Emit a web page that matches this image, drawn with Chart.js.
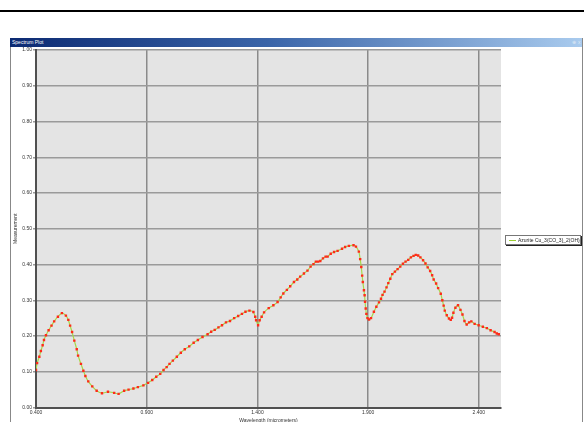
<!DOCTYPE html>
<html lang="en">
<head>
    <meta charset="UTF-8">
    <title>Spectrum Plot</title>
    <script src="https://cdn.jsdelivr.net/npm/chart.js"></script>
    <style>
        body { margin: 0; background: #fff; font-family: "Liberation Sans", Arial, sans-serif; }
        .topline { position: absolute; left: 0; top: 10px; width: 584px; height: 2px; background: #000; }
        .window { position: absolute; left: 10px; top: 38px; width: 571px; height: 390px; border-left: 1px solid #888; border-right: 1px solid #888; }
        .titlebar { position: absolute; left: 10px; top: 38px; width: 572px; height: 9px;
                    background: linear-gradient(to right, #0c2a72, #3a64a8 45%, #a9cbee); }
        .titlebar span { position: absolute; left: 2px; top: 1px; font-size: 5px; color: #fff; }
        .titlebar i { position: absolute; top: 1px; font-style: normal; font-size: 5px; color: #dfe8f5; }
        #chart { position: absolute; left: 0; top: 0; }
        .legend { position: absolute; left: 505px; top: 235px; width: 74px; height: 8px; background: #fff;
                  border: 1px solid #777; box-shadow: 1px 1px 0 #222; overflow: hidden; white-space: nowrap; }
        .legend b { position: absolute; left: 3px; top: 4px; width: 7px; height: 1px; background: #9acd32; }
        .legend span { position: absolute; left: 12px; top: 1px; font-size: 5px; color: #222; }
    </style>
</head>
<body>
    <div class="topline"></div>
    <div class="window"></div>
    <div class="titlebar"><span>Spectrum Plot</span><i style="left:562px">&#8853;</i><i style="left:568px">x</i></div>
    <canvas id="chart" width="584" height="422"></canvas>
    <div class="legend"><b></b><span>Azurite Cu_3(CO_3)_2(OH)_2</span></div>
    <script>
        // Datos del espectro (micrometros / medida)
        const seriesName = 'Azurite Cu_3(CO_3)_2(OH)_2';
        const wavelength = [
            0.400, 0.405, 0.415, 0.422, 0.430, 0.436, 0.445, 0.457, 0.470, 0.482,
            0.499, 0.517, 0.535, 0.546, 0.554, 0.563, 0.573, 0.584, 0.590, 0.603,
            0.614, 0.623, 0.636, 0.654, 0.674, 0.698, 0.725, 0.753, 0.773, 0.798,
            0.818, 0.840, 0.860, 0.885, 0.906, 0.925, 0.943, 0.961, 0.976, 0.990,
            1.003, 1.018, 1.036, 1.054, 1.072, 1.092, 1.112, 1.131, 1.152, 1.175,
            1.191, 1.207, 1.224, 1.240, 1.258, 1.276, 1.295, 1.313, 1.330, 1.346,
            1.364, 1.382, 1.390, 1.394, 1.403, 1.410, 1.419, 1.430, 1.451, 1.472,
            1.491, 1.505, 1.517, 1.533, 1.548, 1.565, 1.580, 1.593, 1.610, 1.626,
            1.640, 1.653, 1.664, 1.674, 1.684, 1.696, 1.708, 1.717, 1.731, 1.746,
            1.762, 1.782, 1.796, 1.813, 1.834, 1.845, 1.858, 1.864, 1.869, 1.873,
            1.876, 1.881, 1.884, 1.886, 1.889, 1.892, 1.897, 1.904, 1.913, 1.926,
            1.937, 1.949, 1.958, 1.965, 1.974, 1.983, 1.991, 2.000, 2.009, 2.021,
            2.033, 2.045, 2.057, 2.069, 2.081, 2.093, 2.105, 2.115, 2.126, 2.136,
            2.148, 2.159, 2.169, 2.180, 2.189, 2.196, 2.207, 2.216, 2.228, 2.235,
            2.241, 2.246, 2.255, 2.265, 2.273, 2.279, 2.285, 2.294, 2.306, 2.317,
            2.326, 2.335, 2.345, 2.356, 2.366, 2.381, 2.399, 2.418, 2.436, 2.453,
            2.471, 2.481, 2.490
        ];
        const measurement = [
            0.105, 0.124, 0.142, 0.158, 0.174, 0.189, 0.202, 0.216, 0.229, 0.241,
            0.254, 0.264, 0.257, 0.245, 0.229, 0.211, 0.187, 0.163, 0.145, 0.122,
            0.103, 0.088, 0.073, 0.059, 0.047, 0.040, 0.044, 0.041, 0.038, 0.047,
            0.050, 0.053, 0.057, 0.062, 0.069, 0.077, 0.086, 0.094, 0.105, 0.113,
            0.122, 0.131, 0.142, 0.153, 0.163, 0.171, 0.181, 0.189, 0.197, 0.205,
            0.212, 0.217, 0.224, 0.230, 0.238, 0.242, 0.250, 0.256, 0.262, 0.268,
            0.271, 0.267, 0.254, 0.244, 0.230, 0.244, 0.254, 0.266, 0.278, 0.286,
            0.295, 0.308, 0.319, 0.329, 0.339, 0.351, 0.358, 0.366, 0.375, 0.383,
            0.394, 0.401, 0.408, 0.408, 0.410, 0.417, 0.422, 0.422, 0.430, 0.435,
            0.438, 0.444, 0.449, 0.452, 0.454, 0.450, 0.436, 0.415, 0.393, 0.369,
            0.351, 0.328, 0.314, 0.296, 0.277, 0.262, 0.250, 0.246, 0.250, 0.268,
            0.282, 0.294, 0.304, 0.315, 0.324, 0.336, 0.348, 0.360, 0.373, 0.380,
            0.387, 0.394, 0.402, 0.408, 0.413, 0.420, 0.424, 0.427, 0.425, 0.420,
            0.412, 0.403, 0.392, 0.382, 0.370, 0.358, 0.347, 0.334, 0.318, 0.300,
            0.285, 0.271, 0.258, 0.249, 0.245, 0.251, 0.265, 0.279, 0.286, 0.273,
            0.260, 0.242, 0.232, 0.238, 0.241, 0.234, 0.230, 0.226, 0.222, 0.216,
            0.211, 0.207, 0.205
        ];
        const xTicks = [0.4, 0.9, 1.4, 1.9, 2.4];
        const xTitle = 'Wavelength (micrometers)';
        const yTitle = 'Measurement';

        // Fondo gris del area de la grafica
        const plotBackground = {
            id: 'plotBackground',
            beforeDraw(chart) {
                const a = chart.chartArea;
                const ctx = chart.ctx;
                ctx.save();
                ctx.fillStyle = '#e4e4e4';
                ctx.fillRect(a.left, a.top, a.right - a.left, a.bottom - a.top);
                ctx.restore();
            }
        };

        const font = { family: 'Liberation Sans', size: 5 };

        new Chart(document.getElementById('chart').getContext('2d'), {
            type: 'line',
            data: {
                datasets: [{
                    label: seriesName,
                    data: wavelength.map((w, i) => ({ x: w, y: measurement[i] })),
                    borderColor: '#a6d84a',
                    borderWidth: 1.2,
                    tension: 0.2,
                    fill: false,
                    pointStyle: 'rect',
                    pointRadius: 1.7,
                    pointBackgroundColor: '#ff2a1a',
                    pointBorderWidth: 0
                }]
            },
            options: {
                responsive: false,
                animation: false,
                layout: { padding: { left: 11, top: 50, right: 83, bottom: 0 } },
                plugins: { legend: { display: false }, tooltip: { enabled: false } },
                scales: {
                    x: {
                        type: 'linear',
                        min: 0.4,
                        max: 2.5,
                        afterFit(scale) { scale.height = 14.5; },
                        afterBuildTicks(scale) { scale.ticks = xTicks.map(v => ({ value: v })); },
                        ticks: { font, color: '#333', padding: 0, maxRotation: 0,
                                 callback: v => v.toFixed(3) },
                        grid: { color: '#8a8a8a', lineWidth: 1.5, tickLength: 2 },
                        border: { color: '#505050', width: 2 },
                        title: { display: true, text: xTitle, font, color: '#333', padding: { top: 0, bottom: -2 } }
                    },
                    y: {
                        min: 0,
                        max: 1,
                        afterFit(scale) { scale.width = 25; },
                        ticks: { stepSize: 0.1, font, color: '#333', padding: 1,
                                 callback: v => v.toFixed(2) },
                        grid: { color: '#9a9a9a', lineWidth: 1.5, tickLength: 3 },
                        border: { color: '#505050', width: 2 },
                        title: { display: true, text: yTitle, font, color: '#333', padding: { top: 2, bottom: 0 } }
                    }
                }
            },
            plugins: [plotBackground]
        });
    </script>
</body>
</html>
